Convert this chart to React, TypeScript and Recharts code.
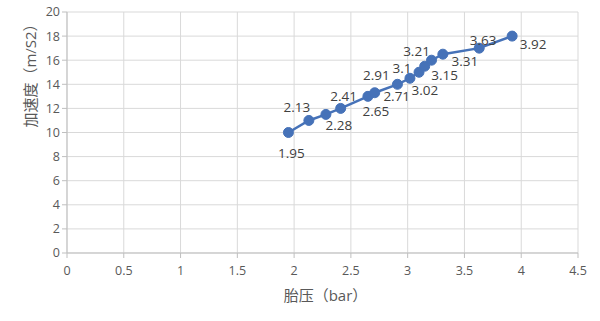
import React from 'react';
import { LineChart, Line, XAxis, YAxis, CartesianGrid, LabelList, Label } from 'recharts';

// tyre pressure (bar) vs acceleration (m/s2)
const PRESSURE = [1.95, 2.13, 2.28, 2.41, 2.65, 2.71, 2.91, 3.02, 3.1, 3.15, 3.21, 3.31, 3.63, 3.92];
const ACCEL = [10, 11, 11.5, 12, 13, 13.3, 14, 14.5, 15, 15.5, 16, 16.5, 17, 18];
const X_TICKS = [0, 0.5, 1, 1.5, 2, 2.5, 3, 3.5, 4, 4.5];
const Y_TICKS = [0, 2, 4, 6, 8, 10, 12, 14, 16, 18, 20];

// where each data label sits relative to its point (dx, dy)
const LABEL_OFFSETS: [number, number][] = [
  [3, 20], [-12, -13], [13, 11], [3, -12], [8, 15], [22, 3], [-21, -9],
  [15, 12], [-17, -4], [20, 9], [-15, -9], [22, 7], [4, -8], [21, 8],
];

const data = PRESSURE.map((x, i) => ({ x, y: ACCEL[i] }));

const BLUE = '#4672b8';
const FONT = '"Open Sans", "Noto Sans CJK SC", sans-serif';

const renderLabel = (props: any) => {
  const { x, y, value, index } = props;
  const [dx, dy] = LABEL_OFFSETS[index] || [0, -10];
  return (
    <text
      x={x + dx}
      y={y + dy}
      textAnchor="middle"
      dominantBaseline="central"
      fontSize={13.5}
      fill="#404040"
      fontFamily={FONT}
    >
      {value}
    </text>
  );
};

export default function App() {
  return (
    <div style={{ position: 'fixed', left: 0, top: 0, width: 600, height: 321, background: '#fff' }}>
      <LineChart width={600} height={321} data={data} margin={{ top: 12, right: 22, bottom: 14, left: 27 }}>
        <CartesianGrid stroke="#d9d9d9" />
        <XAxis
          type="number"
          dataKey="x"
          domain={[0, 4.5]}
          ticks={X_TICKS}
          interval={0}
          stroke="#bfbfbf"
          tickSize={5}
          tickMargin={8}
          tick={{ fill: '#595959', fontSize: 12.5, fontFamily: FONT }}
          height={54}
        >
          <Label
            value="胎压（bar）"
            position="insideBottom"
            offset={6}
            dx={3}
            fill="#595959"
            fontSize={15}
            fontFamily={FONT}
          />
        </XAxis>
        <YAxis
          type="number"
          domain={[0, 20]}
          ticks={Y_TICKS}
          interval={0}
          stroke="#bfbfbf"
          tickSize={5}
          width={40}
          tick={{ fill: '#595959', fontSize: 12.5, fontFamily: FONT }}
        >
          <Label
            content={() => (
              <text
                x={30}
                y={72}
                transform="rotate(-90 30 72)"
                textAnchor="middle"
                dominantBaseline="central"
                fill="#595959"
                fontSize={15}
                fontFamily={FONT}
              >
                加速度（m/S2）
              </text>
            )}
          />
        </YAxis>
        <Line
          type="linear"
          dataKey="y"
          stroke={BLUE}
          strokeWidth={2.5}
          dot={{ r: 5, fill: BLUE, stroke: BLUE, strokeWidth: 1 }}
          isAnimationActive={false}
        >
          <LabelList dataKey="x" content={renderLabel} />
        </Line>
      </LineChart>
    </div>
  );
}
